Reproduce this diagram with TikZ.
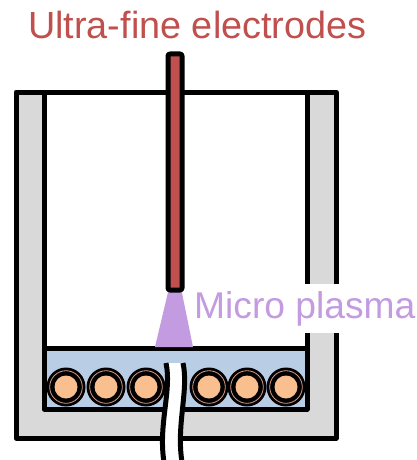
\documentclass[tikz,border=0pt]{standalone}
\usepackage{fontspec}
\setmainfont{Liberation Sans}
\usetikzlibrary{positioning}

\definecolor{wallgray}{HTML}{D9D9D9}
\definecolor{liquidblue}{HTML}{B9CDE5}
\definecolor{electrodered}{HTML}{C0504D}
\definecolor{plasmapurple}{HTML}{C39BE0}
\definecolor{coilorange}{HTML}{F9BF8F}
\definecolor{coilpink}{HTML}{D99A8A}

\tikzset{
  wall/.style={line width=5pt, line join=round},
  label text/.style={inner sep=0pt}
}

\begin{document}
\begin{tikzpicture}[x=1pt, y=-1pt]
\useasboundingbox (0,0) rectangle (416,460);

% Container
\draw[wall, fill=wallgray] (16,92) rectangle (336,438);
\fill[white] (44,92) rectangle (307,409);

% Liquid layer
\fill[liquidblue] (44,348) rectangle (307,409);

% Heating coils
\foreach \x in {66,106,146,209,247,286}{
  \fill[black] (\x,387) circle (19.5);
  \draw[coilpink, line width=0.8pt] (\x,387) circle (16.3);
  \fill[coilorange] (\x,387) circle (11.5);
}

\draw[wall] (44,92) rectangle (307,409);
\draw[wall] (44,348) -- (307,348);

% Cable
\fill[white] (166,363) .. controls (172,390) and (158,425) .. (164,462)
  -- (182,462) .. controls (176,425) and (189,390) .. (183,363) -- cycle;
\draw[wall] (166,363) .. controls (172,390) and (158,425) .. (164,462);
\draw[wall] (183,363) .. controls (189,390) and (176,425) .. (182,462);

% Plasma
\fill[plasmapurple] (169,288) -- (181,288) -- (193,347) -- (155,347) -- cycle;

% Electrode
\draw[wall, fill=electrodered, rounded corners=2pt] (168,54) rectangle (182,290);

% Labels
\node[label text, font=\fontsize{37.8}{42}\selectfont, text=electrodered, anchor=base west]
  (electrode) at (28,39) {Ultra-fine electrodes};
\node[label text, font=\fontsize{37.2}{42}\selectfont, text=plasmapurple, anchor=base west,
  fill=white, inner xsep=1pt, inner ysep=7pt] (plasma) at (193,318) {Micro plasma};

\end{tikzpicture}
\end{document}
